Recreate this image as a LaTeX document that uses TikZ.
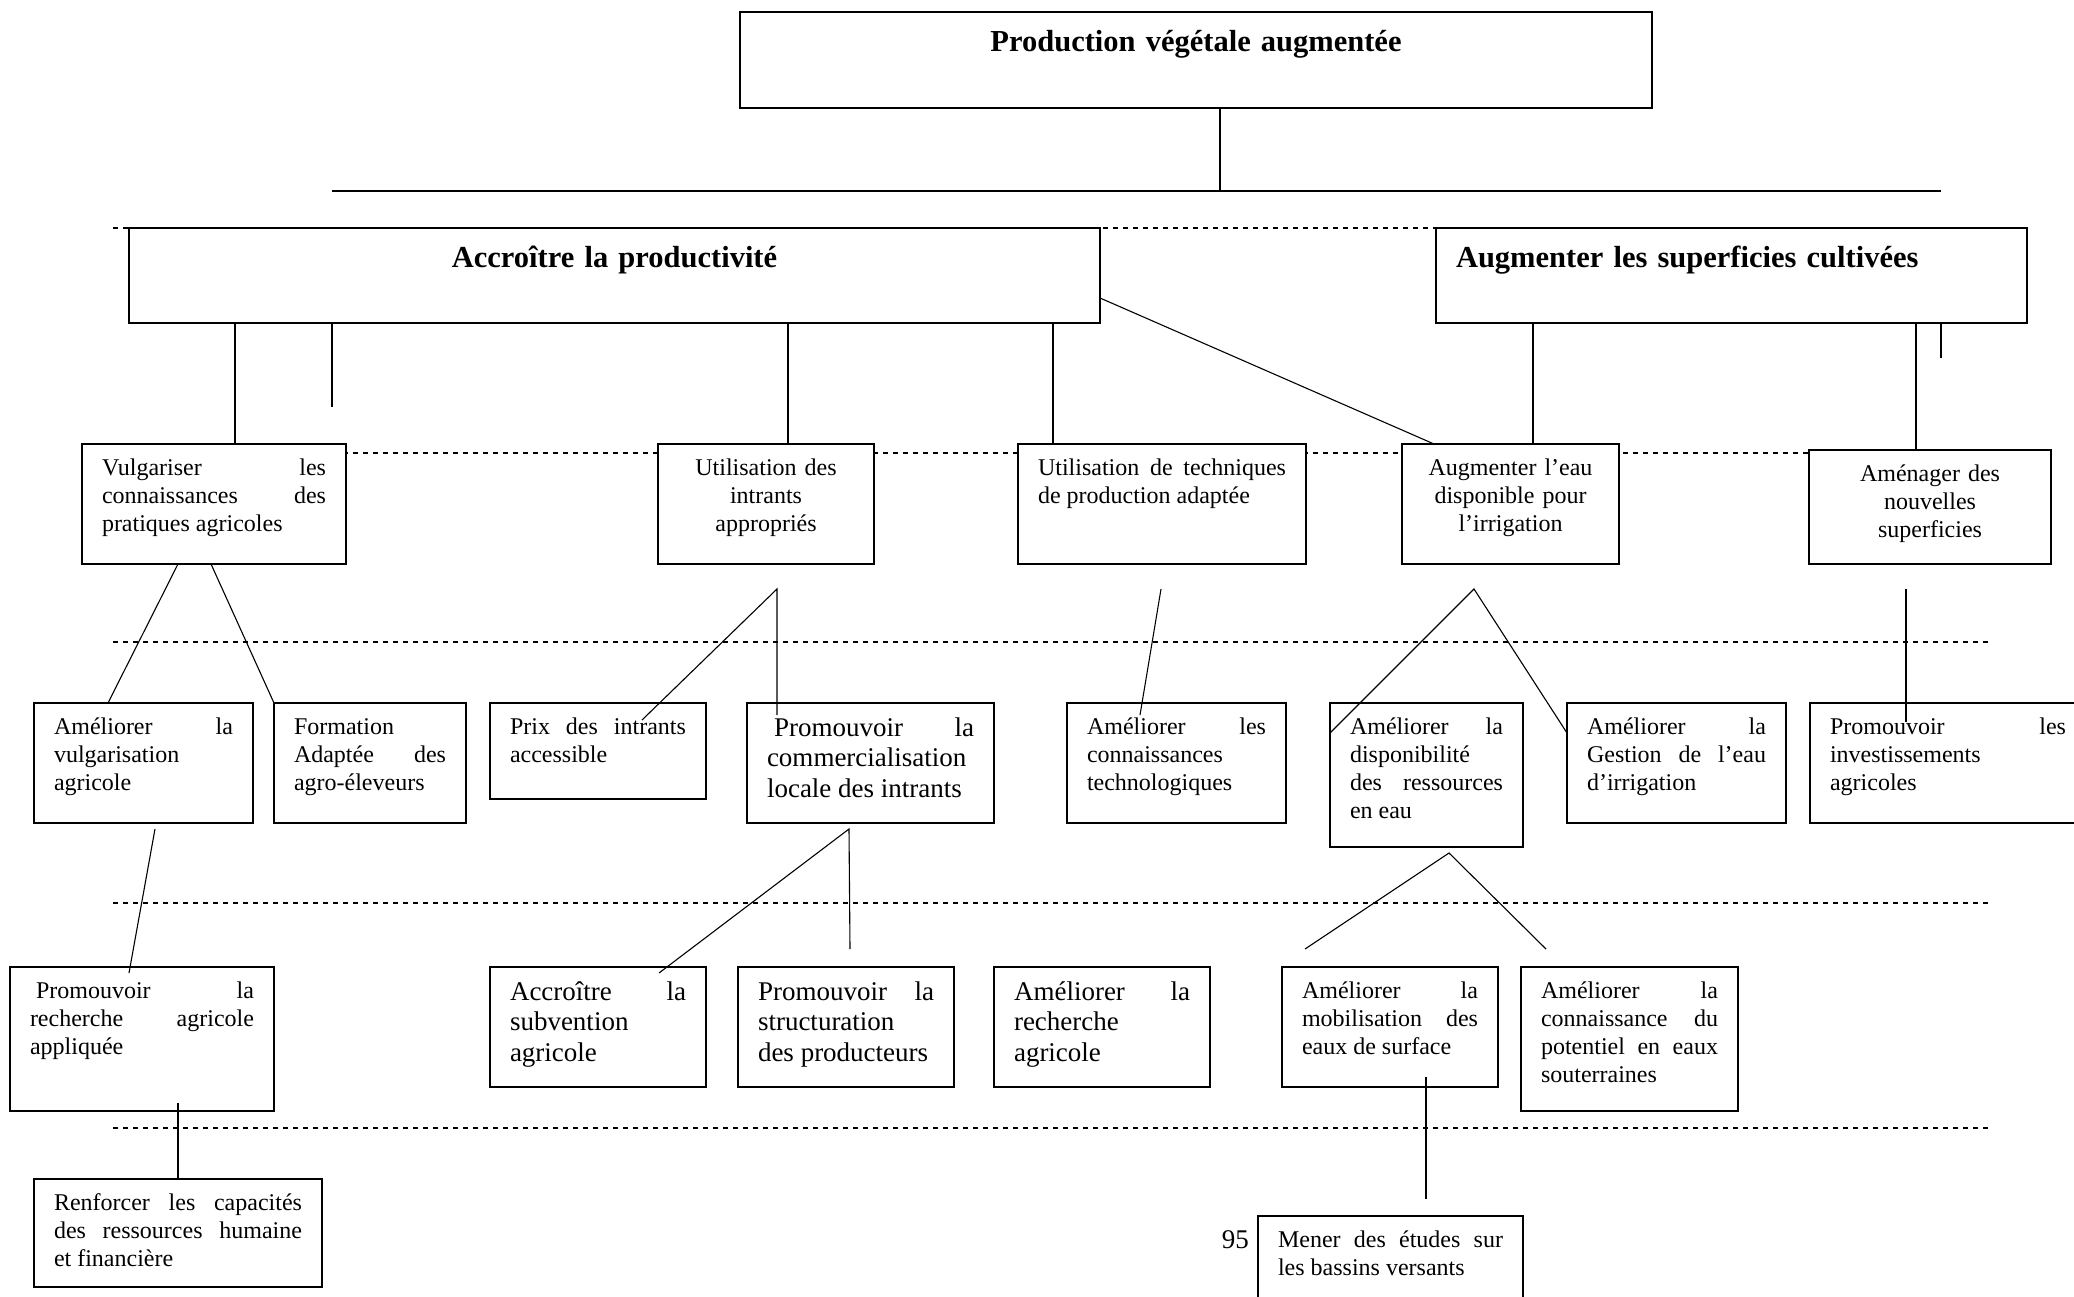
\documentclass[tikz,border=0pt]{standalone}
\usepackage{fontspec}
\setmainfont{Liberation Serif}
\usepackage{tikz}

\newcommand\petit{\fontsize{24}{28}\selectfont}
\newcommand\grand{\fontsize{27}{30.5}\selectfont}
\newcommand\gras{\fontsize{30.5}{35}\selectfont\bfseries}

\tikzset{
  boite/.style={draw, fill=white, line width=1.6pt, anchor=north west, outer sep=0pt,
    inner xsep=20pt, inner ysep=0pt, text height=31pt, align=justify, font=\petit},
  gros/.style={font=\grand, text height=33pt},
  titre/.style={font=\gras, text height=40pt},
  lien/.style={line width=1.1pt},
  barre/.style={line width=2pt},
  pointille/.style={line width=2.5pt, dash pattern=on 5pt off 5pt}
}

\begin{document}
\begin{tikzpicture}[x=1pt,y=-1pt]
\useasboundingbox (0,0) rectangle (2074,1297);
\clip (0,0) rectangle (2074,1297);
\foreach \y in {228,453,642,903,1128} \draw[pointille] (113,\y) -- (1989,\y);

\node[boite, titre, align=center, text width=872pt, text depth=56pt] (prod) at (740,12) {Production végétale augmentée};
\node[boite, titre, align=center, text width=931pt, text depth=55pt] (accr) at (129,228) {Accroître la productivité};
\node[boite, titre, align=left, text width=551pt, text depth=55pt] (augm) at (1436,228) {Augmenter les superficies cultivées};

\node[boite, text width=224pt, text depth=89pt] (vulg) at (82,444) {Vulgariser les\break connaissances des\break pratiques agricoles};
\node[boite, align=center, text width=176pt, text depth=89pt] (intr) at (658,444) {Utilisation des\\intrants\\appropriés};
\node[boite, text width=248pt, text depth=89pt] (tech) at (1018,444) {Utilisation de techniques\break de production adaptée};
\node[boite, align=center, text width=177pt, text depth=89pt] (eau) at (1402,444) {Augmenter l’eau\\disponible pour\\l’irrigation};
\node[boite, align=center, text width=202pt, text depth=83pt] (amen) at (1809,450) {Aménager des\\nouvelles\\superficies};

\node[boite, text width=179pt, text depth=89pt] (amvu) at (34,703) {Améliorer la\break vulgarisation\break agricole};
\node[boite, text width=152pt, text depth=89pt] (form) at (274,703) {Formation\break Adaptée des\break agro-éleveurs};
\node[boite, text width=176pt, text depth=65pt] (prix) at (490,703) {Prix des intrants\break accessible};
\node[boite, gros, text width=207pt, text depth=87pt] (comm) at (747,703) {\hspace*{7pt}Promouvoir la\break commercialisation\break locale des intrants};
\node[boite, text width=179pt, text depth=89pt] (amco) at (1067,703) {Améliorer les\break connaissances\break technologiques};
\node[boite, text width=153pt, text depth=113pt] (disp) at (1330,703) {Améliorer la\break disponibilité\break des ressources\break en eau};
\node[boite, text width=179pt, text depth=89pt] (gest) at (1567,703) {Améliorer la\break Gestion de l’eau\break d’irrigation};
\node[boite, text width=236pt, text depth=89pt] (inve) at (1810,703) {Promouvoir les\break investissements\break agricoles};

\node[boite, text width=224pt, text depth=113pt] (reap) at (10,967) {\hspace*{6pt}Promouvoir la\break recherche agricole\break appliquée};
\node[boite, gros, text width=176pt, text depth=87pt] (subv) at (490,967) {Accroître la\break subvention\break agricole};
\node[boite, gros, text width=176pt, text depth=87pt] (stru) at (738,967) {Promouvoir la\break structuration\break des producteurs};
\node[boite, gros, text width=176pt, text depth=87pt] (rech) at (994,967) {Améliorer la\break recherche\break agricole};
\node[boite, text width=176pt, text depth=89pt] (mobi) at (1282,967) {Améliorer la\break mobilisation des\break eaux de surface};
\node[boite, text width=177pt, text depth=113pt] (pote) at (1521,967) {Améliorer la\break connaissance du\break potentiel en eaux\break souterraines};

\node[boite, text width=248pt, text depth=77pt] (renf) at (34,1179) {Renforcer les capacités\break des ressources humaine\break et financière};
\node[boite, text width=225pt, text depth=89pt] (mene) at (1258,1216) {Mener des études sur\break les bassins versants};
\node[font=\grand, anchor=base east, inner sep=0pt] (page) at (1249,1248) {95};

\coordinate (hg) at (332,191);
\coordinate (hd) at (1941,191);
\coordinate (hm) at (1220,191);
\coordinate (c1) at (332,407);
\coordinate (c2) at (1941,358);
\coordinate (s1) at (777,589);
\coordinate (s1a) at (642,720);
\coordinate (s1b) at (777,715);
\coordinate (s2) at (1161,589);
\coordinate (s2a) at (1140,715);
\coordinate (s3) at (1474,589);
\coordinate (s4) at (1906,589);
\coordinate (s4a) at (1906,722);
\coordinate (s5) at (155,829);
\coordinate (s5a) at (129,973);
\coordinate (s6) at (849,829);
\coordinate (s6a) at (659,973);
\coordinate (s6b) at (850,949);
\coordinate (s7) at (1449,853);
\coordinate (s7a) at (1305,949);
\coordinate (s7b) at (1546,949);
\coordinate (s8) at (178,1103);
\coordinate (s9) at (1426,1077);
\coordinate (s9a) at (1426,1199);

\draw[barre] (hg) -- (hd);
\draw[lien] (hm |- prod.south) -- (hm);
\draw[lien] (235,0 |- accr.south) -- (235,0 |- vulg.north);
\draw[lien] (c1 |- accr.south) -- (c1);
\draw[lien] (788,0 |- accr.south) -- (788,0 |- intr.north);
\draw[lien] (1053,0 |- accr.south) -- (1053,0 |- tech.north);
\draw[lien] ([yshift=-22.5pt]accr.east) -- ([xshift=32pt]eau.north west);
\draw[lien] (1533,0 |- augm.south) -- (1533,0 |- eau.north);
\draw[lien] (1916,0 |- augm.south) -- (1916,0 |- amen.north);
\draw[lien] (c2 |- augm.south) -- (c2);

\draw[lien] ([xshift=-36pt]vulg.south) -- ([xshift=-35.5pt]amvu.north);
\draw[lien] ([xshift=-3pt]vulg.south) -- (form.north west);
\draw[lien] (s1a) -- (s1) -- (s1b);
\draw[lien] (s2) -- (s2a);
\draw[lien] ([yshift=-30pt]disp.north west) -- (s3) -- ([yshift=-30pt]gest.north west);
\draw[lien] (s4) -- (s4a);

\draw[lien] (s5) -- (s5a);
\draw[lien] (s6a) -- (s6) -- (s6b);
\draw[lien] (s7a) -- (s7) -- (s7b);
\draw[lien] (s8) -- (s8 |- renf.north);
\draw[lien] (s9) -- (s9a);
\end{tikzpicture}
\end{document}
